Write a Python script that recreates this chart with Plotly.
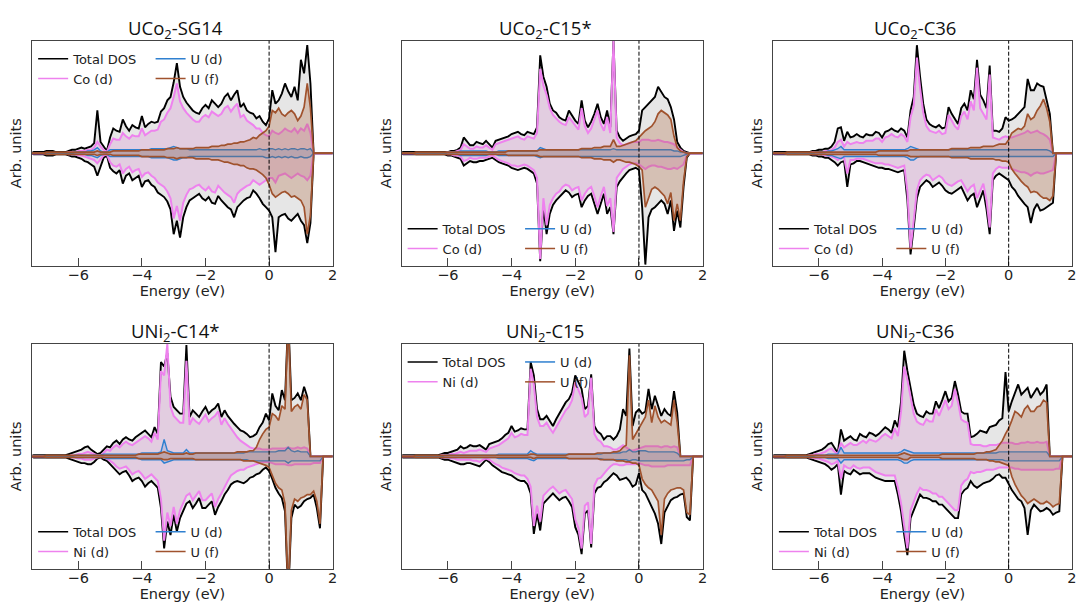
import plotly.graph_objects as go

# Energy grid (eV), 0.1 eV steps from -7.5 to 2.0
energy = [round(-7.5 + 0.1 * i, 1) for i in range(96)]

# ---------------- UCo2-SG14 ----------------
sg14_tot_up = [0, 1, 1, 1, 1, 2, 2, 2, 1, 1,
               1, 1, 2, 3, 3, 4, 5, 4, 5, 6,
               9, 38, 10, 6, 2, 14, 22, 20, 19, 30,
               24, 20, 25, 23, 22, 33, 23, 26, 28, 27,
               28, 37, 40, 47, 50, 63, 80, 59, 50, 45,
               41, 38, 36, 35, 40, 43, 40, 47, 44, 41,
               44, 50, 53, 47, 52, 56, 41, 44, 38, 36,
               35, 31, 33, 28, 25, 31, 56, 44, 47, 53,
               62, 55, 50, 59, 47, 83, 71, 96, 62, 0,
               0, 0, 0, 0, 0, 0]
sg14_tot_dn = [0, 1, 1, 1, 1, 2, 2, 2, 1, 1,
               1, 1, 2, 3, 3, 4, 5, 7, 8, 10,
               12, 20, 11, 4, 2, 13, 16, 18, 15, 27,
               20, 18, 24, 22, 20, 30, 25, 24, 28, 30,
               35, 37, 39, 43, 50, 72, 60, 75, 57, 48,
               42, 40, 38, 36, 40, 42, 39, 44, 45, 38,
               42, 45, 48, 50, 57, 48, 45, 42, 40, 39,
               33, 36, 40, 45, 48, 51, 57, 88, 57, 55,
               54, 58, 60, 57, 54, 60, 64, 80, 62, 0,
               0, 0, 0, 0, 0, 0]
sg14_m_up = [0, 0, 0, 0, 0, 0, 0, 0, 0, 0,
             0, 0, 1, 1, 1, 2, 2, 2, 3, 3,
             5, 10, 6, 3, 1, 8, 13, 12, 12, 18,
             15, 13, 16, 15, 15, 22, 16, 18, 20, 20,
             21, 28, 30, 36, 40, 50, 62, 46, 40, 36,
             33, 30, 28, 28, 32, 34, 32, 37, 35, 33,
             35, 40, 42, 37, 41, 44, 32, 34, 29, 27,
             25, 22, 22, 18, 16, 15, 20, 18, 17, 19,
             22, 20, 19, 22, 18, 22, 20, 26, 18, 0,
             0, 0, 0, 0, 0, 0]
sg14_m_dn = [0, 0, 0, 0, 0, 0, 0, 0, 0, 0,
             0, 0, 1, 1, 1, 2, 2, 3, 4, 5,
             6, 9, 5, 2, 1, 8, 11, 12, 10, 18,
             14, 12, 17, 15, 14, 21, 18, 17, 20, 22,
             26, 28, 30, 34, 40, 58, 47, 60, 44, 37,
             32, 31, 29, 28, 31, 33, 30, 34, 35, 29,
             32, 35, 37, 39, 44, 36, 33, 31, 29, 28,
             24, 26, 28, 26, 24, 22, 22, 26, 20, 19,
             18, 20, 22, 20, 18, 20, 21, 24, 20, 0,
             0, 0, 0, 0, 0, 0]
sg14_ud_up = [0, 0, 0, 0, 0, 0, 0, 0, 0, 0,
              0, 0, 0, 0, 1, 1, 1, 1, 2, 2,
              3, 5, 2, 1, 1, 3, 3, 3, 3, 3,
              3, 3, 3, 3, 3, 3, 3, 3, 4, 4,
              4, 4, 4, 4, 5, 6, 5, 4, 4, 4,
              3, 3, 3, 3, 3, 3, 3, 3, 3, 3,
              3, 3, 3, 3, 3, 3, 3, 3, 3, 3,
              3, 3, 4, 3, 3, 4, 4, 3, 4, 3,
              4, 3, 4, 4, 3, 4, 4, 3, 4, 0,
              0, 0, 0, 0, 0, 0]
sg14_ud_dn = [0, 0, 0, 0, 0, 0, 0, 0, 0, 0,
              0, 0, 0, 0, 1, 1, 1, 1, 2, 2,
              3, 4, 2, 1, 1, 3, 3, 3, 3, 3,
              3, 3, 3, 3, 3, 3, 3, 3, 4, 4,
              4, 4, 4, 4, 5, 6, 6, 5, 4, 4,
              3, 3, 3, 3, 3, 3, 3, 3, 3, 3,
              3, 3, 3, 3, 3, 3, 3, 3, 3, 3,
              3, 3, 3, 3, 4, 4, 3, 4, 3, 4,
              3, 4, 3, 4, 4, 3, 4, 4, 3, 0,
              0, 0, 0, 0, 0, 0]
sg14_uf_up = [0, 0, 0, 0, 0, 1, 1, 1, 1, 1,
              1, 1, 1, 1, 1, 1, 1, 1, 1, 1,
              1, 2, 1, 1, 1, 1, 2, 2, 2, 2,
              2, 2, 2, 2, 2, 3, 3, 3, 3, 3,
              3, 3, 3, 4, 4, 4, 5, 4, 4, 4,
              4, 4, 5, 5, 5, 5, 5, 6, 6, 6,
              7, 7, 8, 8, 9, 9, 10, 10, 11, 12,
              14, 13, 16, 18, 20, 24, 38, 36, 40, 35,
              33, 36, 38, 35, 29, 33, 41, 62, 40, 0,
              0, 0, 0, 0, 0, 0]
sg14_uf_dn = [0, 0, 0, 0, 0, 1, 1, 1, 1, 1,
              1, 1, 1, 1, 1, 1, 1, 1, 1, 1,
              1, 2, 1, 1, 1, 1, 2, 2, 2, 2,
              2, 2, 2, 2, 2, 3, 3, 3, 3, 3,
              3, 3, 3, 4, 4, 4, 5, 4, 4, 4,
              4, 4, 5, 5, 5, 5, 5, 6, 6, 6,
              7, 8, 8, 9, 10, 10, 11, 11, 13, 14,
              14, 15, 17, 19, 22, 28, 36, 39, 37, 35,
              34, 36, 39, 38, 40, 42, 48, 72, 55, 0,
              0, 0, 0, 0, 0, 0]

# ---------------- UCo2-C15* ----------------
c15co_tot_up = [0, 1, 1, 1, 1, 1, 1, 1, 1, 1,
                1, 1, 1, 1, 1, 1, 2, 2, 3, 5,
                14, 10, 7, 7, 10, 9, 8, 11, 8, 5,
                11, 12, 13, 14, 15, 17, 18, 19, 17, 16,
                19, 18, 17, 23, 87, 68, 59, 44, 38, 36,
                32, 30, 29, 38, 33, 29, 26, 47, 29, 23,
                28, 35, 44, 32, 26, 38, 23, 100, 20, 14,
                11, 13, 15, 16, 17, 20, 38, 41, 44, 47,
                50, 59, 55, 50, 48, 41, 30, 10, 5, 2,
                1, 0, 0, 0, 0, 0]
c15co_tot_dn = [0, 1, 1, 1, 1, 1, 1, 1, 1, 1,
                1, 1, 1, 1, 1, 2, 2, 3, 4, 5,
                11, 9, 7, 8, 8, 7, 7, 6, 5, 4,
                6, 8, 9, 10, 11, 13, 14, 15, 14, 13,
                14, 16, 18, 27, 96, 48, 72, 54, 46, 42,
                39, 36, 33, 35, 39, 37, 36, 48, 42, 38,
                36, 45, 54, 45, 36, 54, 48, 72, 30, 25,
                21, 18, 15, 14, 13, 15, 48, 99, 57, 50,
                48, 45, 42, 45, 54, 42, 69, 51, 66, 30,
                4, 0, 0, 0, 0, 0]
c15co_m_up = [0, 0, 0, 0, 0, 0, 0, 0, 0, 0,
              0, 0, 0, 0, 0, 1, 1, 1, 2, 3,
              8, 6, 4, 4, 6, 5, 5, 7, 5, 3,
              8, 9, 10, 11, 12, 13, 14, 15, 13, 12,
              15, 14, 13, 18, 75, 60, 52, 40, 34, 31,
              28, 26, 25, 32, 28, 24, 21, 40, 24, 18,
              22, 30, 38, 26, 20, 32, 18, 100, 14, 9,
              7, 8, 9, 10, 10, 10, 12, 12, 12, 11,
              11, 12, 11, 10, 10, 9, 8, 5, 3, 1,
              0, 0, 0, 0, 0, 0]
c15co_m_dn = [0, 0, 0, 0, 0, 0, 0, 0, 0, 0,
              0, 0, 0, 0, 0, 1, 1, 2, 2, 3,
              7, 6, 4, 5, 5, 4, 4, 4, 3, 2,
              4, 6, 7, 8, 9, 11, 11, 12, 11, 10,
              11, 13, 15, 22, 94, 40, 64, 46, 40, 36,
              34, 30, 28, 29, 33, 31, 30, 42, 36, 32,
              30, 38, 48, 38, 30, 47, 40, 70, 22, 18,
              14, 12, 10, 9, 9, 10, 12, 14, 12, 11,
              11, 12, 12, 13, 14, 14, 13, 14, 12, 10,
              2, 0, 0, 0, 0, 0]
c15co_ud_up = [0, 0, 0, 0, 0, 0, 0, 0, 0, 0,
               0, 0, 0, 0, 0, 1, 1, 1, 1, 2,
               2, 2, 2, 2, 2, 2, 2, 2, 1, 1,
               1, 2, 2, 2, 2, 2, 2, 2, 2, 2,
               2, 2, 2, 2, 5, 4, 3, 3, 3, 3,
               3, 3, 3, 3, 3, 3, 3, 3, 3, 3,
               3, 3, 3, 3, 3, 3, 3, 4, 3, 3,
               3, 3, 3, 3, 3, 3, 3, 3, 3, 3,
               3, 3, 3, 3, 3, 3, 2, 2, 1, 1,
               0, 0, 0, 0, 0, 0]
c15co_ud_dn = [0, 0, 0, 0, 0, 0, 0, 0, 0, 0,
               0, 0, 0, 0, 0, 1, 1, 1, 1, 2,
               2, 2, 2, 2, 2, 2, 2, 2, 1, 1,
               1, 2, 2, 2, 2, 2, 2, 2, 2, 2,
               2, 2, 2, 3, 4, 3, 3, 3, 3, 3,
               3, 3, 3, 3, 3, 3, 3, 3, 3, 3,
               3, 3, 3, 3, 3, 3, 3, 3, 3, 3,
               3, 3, 3, 3, 3, 3, 3, 3, 3, 3,
               3, 3, 3, 3, 3, 3, 3, 3, 3, 2,
               1, 0, 0, 0, 0, 0]
c15co_uf_up = [0, 0, 0, 0, 0, 1, 1, 1, 1, 1,
               1, 1, 1, 1, 1, 1, 1, 1, 1, 1,
               1, 1, 1, 1, 1, 1, 1, 1, 1, 1,
               1, 1, 1, 1, 2, 2, 2, 2, 2, 2,
               2, 2, 2, 2, 3, 3, 3, 3, 3, 3,
               3, 3, 3, 3, 3, 3, 3, 4, 4, 4,
               4, 5, 5, 5, 6, 6, 6, 12, 6, 6,
               7, 8, 9, 10, 11, 14, 17, 20, 22, 24,
               28, 35, 38, 36, 34, 30, 15, 5, 2, 1,
               0, 0, 0, 0, 0, 0]
c15co_uf_dn = [0, 0, 0, 0, 0, 1, 1, 1, 1, 1,
               1, 1, 1, 1, 1, 1, 1, 1, 1, 1,
               1, 1, 1, 1, 1, 1, 1, 1, 1, 1,
               1, 1, 1, 1, 2, 2, 2, 2, 2, 2,
               2, 2, 2, 2, 3, 3, 3, 3, 3, 3,
               3, 3, 3, 3, 3, 3, 3, 4, 4, 4,
               4, 5, 5, 5, 6, 6, 6, 8, 6, 6,
               7, 8, 8, 9, 10, 12, 15, 48, 40, 32,
               30, 32, 35, 38, 45, 35, 60, 45, 60, 25,
               3, 0, 0, 0, 0, 0]

# ---------------- UCo2-C36 ----------------
c36co_tot_up = [0, 1, 1, 1, 1, 1, 1, 1, 1, 1,
                1, 1, 1, 2, 2, 3, 3, 4, 4, 6,
                10, 22, 23, 11, 19, 14, 15, 17, 15, 14,
                17, 16, 16, 19, 18, 14, 19, 20, 22, 20,
                19, 22, 20, 14, 38, 50, 96, 68, 44, 30,
                26, 24, 23, 25, 22, 23, 41, 35, 30, 26,
                40, 44, 38, 56, 48, 83, 52, 47, 40, 78,
                20, 20, 19, 22, 32, 29, 30, 32, 35, 38,
                41, 66, 56, 56, 62, 60, 59, 47, 35, 0,
                0, 0, 0, 0, 0, 0]
c36co_tot_dn = [0, 1, 1, 1, 1, 1, 1, 1, 1, 1,
                1, 1, 1, 2, 2, 3, 3, 4, 4, 6,
                8, 11, 8, 7, 30, 10, 9, 7, 7, 8,
                9, 10, 11, 12, 13, 13, 14, 14, 15, 16,
                17, 16, 15, 42, 90, 66, 40, 30, 27, 24,
                26, 30, 28, 26, 29, 33, 35, 36, 34, 32,
                30, 36, 42, 38, 36, 48, 40, 33, 50, 72,
                24, 20, 18, 20, 22, 24, 30, 33, 38, 42,
                45, 48, 62, 50, 45, 51, 50, 48, 46, 44,
                0, 0, 0, 0, 0, 0]
c36co_m_up = [0, 0, 0, 0, 0, 0, 0, 0, 0, 0,
              0, 0, 0, 1, 1, 1, 1, 2, 2, 3,
              5, 10, 12, 6, 10, 8, 9, 10, 9, 9,
              11, 11, 11, 13, 13, 10, 14, 15, 17, 15,
              14, 17, 15, 10, 32, 42, 85, 58, 36, 24,
              20, 19, 18, 20, 17, 18, 34, 29, 24, 21,
              33, 37, 30, 46, 38, 76, 40, 35, 30, 70,
              14, 13, 12, 14, 15, 14, 14, 15, 16, 17,
              18, 20, 18, 19, 20, 18, 17, 15, 12, 0,
              0, 0, 0, 0, 0, 0]
c36co_m_dn = [0, 0, 0, 0, 0, 0, 0, 0, 0, 0,
              0, 0, 0, 1, 1, 1, 1, 2, 2, 3,
              4, 6, 4, 4, 18, 6, 6, 5, 5, 5,
              6, 7, 8, 9, 9, 9, 10, 10, 11, 12,
              13, 12, 11, 34, 85, 60, 33, 24, 21, 19,
              20, 24, 22, 20, 22, 26, 28, 29, 27, 25,
              24, 29, 34, 30, 28, 40, 33, 27, 42, 66,
              18, 14, 12, 13, 13, 13, 14, 15, 16, 17,
              17, 18, 20, 18, 17, 18, 18, 17, 16, 15,
              0, 0, 0, 0, 0, 0]
c36co_ud_up = [0, 0, 0, 0, 0, 0, 0, 0, 0, 0,
               0, 0, 0, 0, 1, 1, 1, 1, 2, 2,
               3, 4, 6, 3, 3, 3, 3, 3, 3, 3,
               3, 3, 3, 3, 3, 3, 3, 3, 3, 3,
               3, 3, 3, 4, 6, 5, 4, 3, 3, 3,
               3, 3, 3, 3, 3, 3, 3, 3, 3, 3,
               3, 3, 3, 3, 3, 3, 3, 3, 3, 3,
               3, 3, 3, 3, 3, 3, 3, 3, 3, 3,
               3, 3, 3, 3, 3, 3, 3, 3, 2, 0,
               0, 0, 0, 0, 0, 0]
c36co_ud_dn = [0, 0, 0, 0, 0, 0, 0, 0, 0, 0,
               0, 0, 0, 0, 1, 1, 1, 1, 2, 2,
               3, 4, 5, 3, 3, 3, 3, 3, 3, 3,
               3, 3, 3, 3, 3, 3, 3, 3, 3, 3,
               3, 3, 3, 4, 6, 6, 4, 3, 3, 3,
               3, 3, 3, 3, 3, 3, 3, 3, 3, 3,
               3, 3, 3, 3, 3, 3, 3, 3, 3, 3,
               3, 3, 3, 3, 3, 3, 3, 3, 3, 3,
               3, 3, 3, 3, 3, 3, 3, 3, 3, 3,
               0, 0, 0, 0, 0, 0]
c36co_uf_up = [0, 0, 0, 0, 0, 1, 1, 1, 1, 1,
               1, 1, 1, 1, 1, 1, 1, 1, 1, 1,
               1, 1, 1, 1, 1, 1, 1, 1, 1, 1,
               1, 1, 1, 1, 2, 2, 2, 2, 2, 2,
               2, 2, 2, 2, 3, 3, 3, 3, 3, 3,
               3, 3, 3, 3, 3, 3, 3, 4, 4, 4,
               4, 4, 4, 5, 5, 5, 5, 6, 6, 6,
               6, 7, 8, 8, 8, 12, 18, 20, 22, 21,
               24, 35, 30, 32, 38, 42, 48, 40, 28, 0,
               0, 0, 0, 0, 0, 0]
c36co_uf_dn = [0, 0, 0, 0, 0, 1, 1, 1, 1, 1,
               1, 1, 1, 1, 1, 1, 1, 1, 1, 1,
               1, 1, 1, 1, 1, 1, 1, 1, 1, 1,
               1, 1, 1, 1, 2, 2, 2, 2, 2, 2,
               2, 2, 2, 2, 3, 3, 3, 3, 3, 3,
               3, 3, 3, 3, 3, 3, 3, 4, 4, 4,
               4, 4, 4, 5, 5, 5, 5, 5, 5, 5,
               5, 6, 6, 7, 7, 8, 14, 18, 22, 25,
               28, 30, 35, 34, 35, 38, 40, 40, 42, 38,
               0, 0, 0, 0, 0, 0]

# ---------------- UNi2-C14* ----------------
c14ni_tot_up = [0, 1, 1, 1, 1, 1, 1, 1, 1, 1,
                1, 1, 2, 3, 4, 5, 6, 8, 9, 6,
                4, 2, 3, 6, 9, 8, 12, 14, 11, 15,
                17, 15, 14, 17, 19, 21, 23, 20, 17, 26,
                20, 84, 80, 92, 53, 44, 41, 38, 38, 99,
                35, 41, 38, 35, 40, 44, 38, 41, 43, 47,
                35, 41, 36, 32, 29, 26, 23, 22, 20, 17,
                18, 20, 26, 30, 38, 32, 56, 45, 41, 59,
                50, 125, 50, 52, 56, 50, 62, 53, 0, 0,
                0, 0, 0, 0, 0, 0]
c14ni_tot_dn = [0, 1, 1, 1, 1, 1, 1, 1, 1, 1,
                1, 1, 2, 3, 4, 5, 6, 6, 7, 7,
                5, 2, 1, 3, 4, 7, 10, 13, 16, 14,
                13, 17, 22, 20, 19, 22, 27, 24, 22, 25,
                28, 46, 82, 58, 70, 52, 67, 55, 49, 42,
                40, 46, 42, 37, 46, 46, 43, 40, 52, 45,
                40, 34, 30, 25, 23, 22, 23, 24, 22, 19,
                18, 16, 15, 12, 10, 13, 20, 28, 33, 37,
                49, 125, 55, 43, 46, 44, 40, 38, 37, 34,
                46, 64, 0, 0, 0, 0]
c14ni_m_up = [0, 0, 0, 0, 0, 0, 0, 0, 0, 0,
              0, 0, 0, 1, 1, 2, 2, 3, 4, 3,
              2, 1, 1, 3, 6, 5, 8, 10, 8, 11,
              13, 11, 10, 12, 14, 16, 18, 16, 13, 21,
              15, 76, 72, 100, 44, 36, 33, 30, 30, 85,
              28, 34, 31, 29, 33, 37, 31, 34, 36, 40,
              28, 34, 29, 25, 20, 17, 14, 12, 10, 8,
              7, 7, 7, 6, 6, 6, 7, 7, 7, 7,
              7, 8, 7, 7, 8, 7, 8, 7, 0, 0,
              0, 0, 0, 0, 0, 0]
c14ni_m_dn = [0, 0, 0, 0, 0, 0, 0, 0, 0, 0,
              0, 0, 0, 1, 1, 2, 2, 3, 3, 3,
              2, 1, 0, 1, 2, 4, 6, 9, 11, 10,
              9, 12, 16, 14, 13, 16, 20, 18, 16, 19,
              22, 38, 75, 50, 62, 45, 60, 48, 42, 35,
              33, 39, 35, 31, 39, 39, 36, 33, 45, 38,
              33, 27, 22, 17, 15, 13, 12, 12, 10, 9,
              8, 7, 6, 5, 5, 5, 6, 7, 7, 7,
              7, 8, 8, 7, 7, 7, 7, 7, 7, 6,
              6, 6, 0, 0, 0, 0]
c14ni_ud_up = [0, 0, 0, 0, 0, 0, 0, 0, 0, 0,
               0, 0, 0, 0, 1, 1, 1, 1, 1, 1,
               1, 1, 1, 2, 2, 2, 2, 2, 2, 2,
               2, 2, 2, 2, 2, 3, 3, 3, 3, 3,
               3, 4, 15, 5, 4, 3, 3, 3, 3, 6,
               3, 3, 3, 3, 3, 3, 3, 3, 3, 3,
               3, 3, 3, 3, 3, 3, 3, 3, 4, 4,
               4, 4, 4, 4, 4, 4, 4, 4, 5, 5,
               5, 8, 5, 4, 5, 4, 4, 4, 0, 0,
               0, 0, 0, 0, 0, 0]
c14ni_ud_dn = [0, 0, 0, 0, 0, 0, 0, 0, 0, 0,
               0, 0, 0, 0, 1, 1, 1, 1, 1, 1,
               1, 1, 1, 1, 2, 2, 2, 2, 2, 2,
               2, 2, 2, 2, 2, 3, 3, 3, 3, 3,
               3, 3, 6, 5, 4, 3, 3, 3, 3, 3,
               3, 3, 3, 3, 3, 3, 3, 3, 3, 3,
               3, 3, 3, 3, 3, 3, 3, 3, 3, 4,
               4, 4, 4, 4, 4, 4, 4, 4, 4, 4,
               4, 6, 4, 4, 4, 4, 4, 4, 4, 4,
               4, 4, 0, 0, 0, 0]
c14ni_uf_up = [0, 0, 0, 0, 0, 1, 1, 1, 1, 1,
               1, 1, 1, 1, 1, 1, 1, 1, 1, 1,
               1, 1, 1, 1, 1, 1, 1, 1, 1, 1,
               1, 1, 1, 1, 2, 2, 2, 2, 2, 2,
               2, 3, 4, 3, 2, 2, 2, 2, 2, 3,
               2, 2, 3, 3, 3, 3, 3, 3, 3, 3,
               3, 3, 3, 3, 3, 4, 4, 4, 4, 5,
               5, 8, 15, 20, 24, 26, 38, 36, 32, 45,
               42, 125, 40, 44, 46, 42, 55, 50, 0, 0,
               0, 0, 0, 0, 0, 0]
c14ni_uf_dn = [0, 0, 0, 0, 0, 1, 1, 1, 1, 1,
               1, 1, 1, 1, 1, 1, 1, 1, 1, 1,
               1, 1, 1, 1, 1, 1, 1, 1, 1, 1,
               1, 1, 1, 1, 2, 2, 2, 2, 2, 2,
               2, 2, 3, 3, 2, 2, 2, 2, 2, 2,
               2, 2, 3, 3, 3, 3, 3, 3, 3, 3,
               3, 3, 3, 3, 3, 3, 3, 4, 4, 4,
               4, 5, 6, 7, 8, 10, 17, 24, 28, 30,
               42, 125, 48, 38, 40, 37, 36, 34, 34, 31,
               40, 60, 0, 0, 0, 0]

# ---------------- UNi2-C15 ----------------
c15ni_tot_up = [0, 1, 1, 1, 1, 1, 1, 1, 1, 1,
                1, 1, 1, 2, 3, 3, 4, 5, 6, 9,
                7, 8, 10, 9, 9, 10, 8, 6, 11, 12,
                13, 14, 16, 19, 21, 27, 22, 23, 25, 24,
                24, 84, 72, 42, 33, 33, 36, 31, 27, 33,
                38, 42, 48, 51, 57, 72, 66, 60, 42, 45,
                73, 27, 22, 20, 15, 18, 18, 15, 18, 24,
                42, 36, 96, 27, 39, 42, 38, 40, 60, 42,
                54, 45, 36, 42, 38, 36, 58, 39, 0, 0,
                0, 0, 0, 0, 0, 0]
c15ni_tot_dn = [0, 1, 1, 1, 1, 1, 1, 1, 1, 1,
                1, 1, 1, 2, 3, 3, 4, 5, 6, 7,
                7, 6, 6, 7, 8, 9, 6, 3, 5, 8,
                10, 12, 14, 15, 16, 17, 19, 21, 22, 22,
                25, 33, 69, 51, 66, 42, 39, 36, 33, 36,
                39, 37, 36, 40, 45, 63, 70, 87, 51, 48,
                81, 33, 28, 27, 23, 21, 18, 15, 17, 21,
                20, 19, 22, 27, 25, 15, 30, 33, 39, 45,
                51, 60, 78, 50, 45, 39, 37, 36, 34, 33,
                54, 57, 0, 0, 0, 0]
c15ni_m_up = [0, 0, 0, 0, 0, 0, 0, 0, 0, 0,
              0, 0, 0, 1, 1, 1, 2, 2, 3, 4,
              3, 4, 5, 5, 5, 6, 5, 4, 7, 8,
              9, 10, 12, 14, 16, 21, 17, 18, 20, 19,
              19, 78, 64, 35, 27, 27, 30, 25, 21, 26,
              31, 35, 41, 44, 50, 66, 58, 52, 35, 38,
              70, 20, 15, 13, 9, 9, 8, 6, 6, 8,
              10, 8, 6, 5, 6, 7, 8, 9, 9, 9,
              9, 9, 8, 9, 9, 8, 9, 8, 0, 0,
              0, 0, 0, 0, 0, 0]
c15ni_m_dn = [0, 0, 0, 0, 0, 0, 0, 0, 0, 0,
              0, 0, 0, 1, 1, 1, 2, 2, 3, 3,
              3, 3, 3, 4, 4, 5, 3, 2, 3, 5,
              7, 8, 10, 11, 12, 13, 15, 16, 17, 17,
              20, 27, 62, 44, 58, 35, 32, 29, 27, 30,
              33, 31, 30, 34, 38, 56, 64, 82, 44, 41,
              78, 26, 20, 19, 15, 12, 9, 7, 7, 8,
              8, 7, 7, 7, 7, 6, 7, 8, 8, 9,
              9, 9, 9, 9, 8, 8, 8, 8, 8, 8,
              8, 8, 0, 0, 0, 0]
c15ni_ud_up = [0, 0, 0, 0, 0, 0, 0, 0, 0, 0,
               0, 0, 0, 0, 1, 1, 1, 1, 1, 1,
               1, 1, 1, 1, 1, 1, 1, 1, 1, 1,
               1, 2, 2, 2, 2, 2, 2, 2, 2, 2,
               2, 5, 3, 2, 2, 2, 2, 2, 2, 2,
               2, 2, 2, 2, 2, 2, 2, 2, 2, 2,
               2, 2, 2, 2, 3, 3, 3, 3, 3, 3,
               4, 4, 6, 4, 4, 5, 5, 5, 4, 4,
               4, 4, 4, 4, 4, 4, 4, 3, 0, 0,
               0, 0, 0, 0, 0, 0]
c15ni_ud_dn = [0, 0, 0, 0, 0, 0, 0, 0, 0, 0,
               0, 0, 0, 0, 1, 1, 1, 1, 1, 1,
               1, 1, 1, 1, 1, 1, 1, 1, 1, 1,
               1, 2, 2, 2, 2, 2, 2, 2, 2, 2,
               2, 3, 4, 2, 2, 2, 2, 2, 2, 2,
               2, 2, 2, 2, 2, 2, 2, 2, 2, 2,
               2, 2, 2, 2, 3, 3, 3, 3, 3, 3,
               3, 3, 4, 3, 3, 4, 4, 4, 4, 4,
               4, 4, 4, 4, 4, 4, 4, 4, 4, 4,
               3, 3, 0, 0, 0, 0]
c15ni_uf_up = [0, 0, 0, 0, 0, 1, 1, 1, 1, 1,
               1, 1, 1, 1, 1, 1, 1, 1, 1, 1,
               1, 1, 1, 1, 1, 1, 1, 1, 1, 1,
               1, 1, 1, 1, 1, 1, 1, 1, 1, 1,
               1, 2, 2, 1, 1, 1, 1, 1, 1, 1,
               1, 1, 1, 2, 2, 2, 2, 2, 2, 2,
               2, 2, 3, 3, 3, 3, 3, 4, 4, 5,
               8, 10, 90, 15, 20, 25, 30, 35, 50, 30,
               45, 35, 30, 32, 30, 28, 50, 30, 0, 0,
               0, 0, 0, 0, 0, 0]
c15ni_uf_dn = [0, 0, 0, 0, 0, 1, 1, 1, 1, 1,
               1, 1, 1, 1, 1, 1, 1, 1, 1, 1,
               1, 1, 1, 1, 1, 1, 1, 1, 1, 1,
               1, 1, 1, 1, 1, 1, 1, 1, 1, 1,
               1, 1, 2, 1, 1, 1, 1, 1, 1, 1,
               1, 1, 1, 2, 2, 2, 2, 2, 2, 2,
               2, 2, 2, 3, 3, 3, 3, 3, 4, 4,
               4, 5, 5, 6, 6, 8, 20, 25, 28, 30,
               35, 40, 70, 38, 33, 30, 29, 28, 28, 30,
               50, 52, 0, 0, 0, 0]

# ---------------- UNi2-C36 ----------------
c36ni_tot_up = [0, 1, 1, 1, 1, 1, 1, 1, 1, 1,
                1, 1, 2, 3, 4, 5, 6, 8, 11, 12,
                8, 3, 24, 14, 16, 18, 15, 14, 20, 18,
                17, 21, 20, 18, 20, 23, 26, 24, 21, 32,
                26, 49, 94, 76, 61, 46, 38, 36, 35, 40,
                38, 38, 49, 43, 50, 58, 49, 52, 67, 55,
                40, 38, 38, 17, 18, 20, 23, 22, 21, 26,
                27, 28, 32, 34, 75, 40, 49, 57, 64, 55,
                58, 61, 52, 56, 61, 55, 58, 64, 0, 0,
                0, 0, 0, 0, 0, 0]
c36ni_tot_dn = [0, 1, 1, 1, 1, 1, 1, 1, 1, 1,
                1, 1, 2, 3, 4, 5, 6, 7, 9, 12,
                10, 7, 34, 13, 15, 16, 12, 14, 16, 15,
                15, 15, 17, 19, 20, 21, 22, 22, 22, 22,
                34, 49, 70, 88, 55, 48, 40, 34, 37, 37,
                38, 40, 40, 43, 43, 46, 49, 52, 55, 55,
                34, 30, 28, 22, 26, 28, 26, 24, 23, 22,
                20, 17, 16, 19, 19, 25, 30, 34, 38, 40,
                46, 70, 48, 43, 46, 49, 48, 46, 48, 52,
                50, 49, 0, 0, 0, 0]
c36ni_m_up = [0, 0, 0, 0, 0, 0, 0, 0, 0, 0,
              0, 0, 1, 1, 2, 2, 3, 4, 6, 7,
              4, 2, 12, 8, 10, 12, 10, 10, 12, 14,
              12, 15, 14, 13, 15, 18, 20, 18, 16, 25,
              18, 40, 80, 68, 52, 38, 31, 29, 28, 33,
              31, 31, 42, 36, 43, 50, 42, 45, 60, 48,
              33, 31, 30, 11, 10, 10, 10, 9, 9, 10,
              10, 10, 11, 12, 12, 12, 12, 11, 11, 12,
              12, 13, 12, 12, 13, 12, 12, 13, 0, 0,
              0, 0, 0, 0, 0, 0]
c36ni_m_dn = [0, 0, 0, 0, 0, 0, 0, 0, 0, 0,
              0, 0, 1, 1, 2, 2, 3, 4, 5, 7,
              6, 4, 20, 8, 10, 11, 8, 10, 11, 10,
              10, 10, 12, 14, 15, 16, 17, 17, 17, 17,
              28, 42, 62, 82, 48, 40, 33, 28, 30, 30,
              31, 33, 33, 36, 36, 39, 42, 45, 48, 48,
              26, 22, 20, 14, 15, 14, 14, 13, 12, 12,
              12, 11, 10, 10, 10, 10, 10, 11, 11, 12,
              12, 12, 12, 12, 12, 12, 12, 12, 12, 12,
              11, 11, 0, 0, 0, 0]
c36ni_ud_up = [0, 0, 0, 0, 0, 0, 0, 0, 0, 0,
               0, 0, 0, 0, 1, 1, 1, 1, 2, 2,
               2, 2, 8, 3, 3, 3, 3, 3, 3, 3,
               3, 3, 3, 3, 3, 3, 3, 3, 3, 3,
               3, 4, 6, 5, 4, 3, 3, 3, 3, 3,
               3, 3, 3, 3, 3, 3, 3, 3, 3, 3,
               3, 3, 3, 3, 3, 3, 3, 3, 3, 3,
               3, 3, 4, 4, 4, 4, 4, 4, 4, 4,
               4, 4, 4, 4, 4, 4, 4, 4, 0, 0,
               0, 0, 0, 0, 0, 0]
c36ni_ud_dn = [0, 0, 0, 0, 0, 0, 0, 0, 0, 0,
               0, 0, 0, 0, 1, 1, 1, 1, 2, 2,
               2, 2, 6, 3, 3, 3, 3, 3, 3, 3,
               3, 3, 3, 3, 3, 3, 3, 3, 3, 3,
               3, 4, 6, 6, 4, 3, 3, 3, 3, 3,
               3, 3, 3, 3, 3, 3, 3, 3, 3, 3,
               3, 3, 3, 3, 3, 3, 3, 3, 3, 3,
               3, 3, 3, 3, 4, 4, 4, 4, 4, 4,
               4, 4, 4, 4, 4, 4, 4, 4, 4, 4,
               4, 4, 0, 0, 0, 0]
c36ni_uf_up = [0, 0, 0, 0, 0, 1, 1, 1, 1, 1,
               1, 1, 1, 1, 1, 1, 1, 1, 1, 1,
               1, 1, 1, 1, 1, 1, 1, 1, 1, 1,
               1, 1, 1, 1, 1, 1, 1, 1, 1, 1,
               1, 2, 3, 2, 1, 1, 1, 1, 1, 1,
               1, 1, 1, 1, 2, 2, 2, 2, 2, 2,
               2, 2, 2, 2, 2, 3, 3, 3, 4, 4,
               5, 6, 10, 14, 20, 25, 32, 40, 38, 35,
               42, 45, 40, 40, 44, 45, 50, 48, 0, 0,
               0, 0, 0, 0, 0, 0]
c36ni_uf_dn = [0, 0, 0, 0, 0, 1, 1, 1, 1, 1,
               1, 1, 1, 1, 1, 1, 1, 1, 1, 1,
               1, 1, 1, 1, 1, 1, 1, 1, 1, 1,
               1, 1, 1, 1, 1, 1, 1, 1, 1, 1,
               1, 2, 3, 3, 1, 1, 1, 1, 1, 1,
               1, 1, 1, 1, 2, 2, 2, 2, 2, 2,
               2, 2, 2, 2, 2, 3, 3, 3, 3, 4,
               4, 5, 5, 6, 7, 8, 18, 25, 30, 35,
               38, 42, 40, 38, 40, 42, 42, 40, 42, 45,
               43, 42, 0, 0, 0, 0]

tick_values = [-6, -4, -2, 0, 2]
tick_labels = ["\u22126", "\u22124", "\u22122", "0", "2"]

panels = [
    dict(title="UCo<sub>2</sub>-SG14", metal="Co (d)", legend_top=True,
         tot=(sg14_tot_up, sg14_tot_dn), m=(sg14_m_up, sg14_m_dn),
         ud=(sg14_ud_up, sg14_ud_dn), uf=(sg14_uf_up, sg14_uf_dn)),
    dict(title="UCo<sub>2</sub>-C15*", metal="Co (d)", legend_top=False,
         tot=(c15co_tot_up, c15co_tot_dn), m=(c15co_m_up, c15co_m_dn),
         ud=(c15co_ud_up, c15co_ud_dn), uf=(c15co_uf_up, c15co_uf_dn)),
    dict(title="UCo<sub>2</sub>-C36", metal="Co (d)", legend_top=False,
         tot=(c36co_tot_up, c36co_tot_dn), m=(c36co_m_up, c36co_m_dn),
         ud=(c36co_ud_up, c36co_ud_dn), uf=(c36co_uf_up, c36co_uf_dn)),
    dict(title="UNi<sub>2</sub>-C14*", metal="Ni (d)", legend_top=False,
         tot=(c14ni_tot_up, c14ni_tot_dn), m=(c14ni_m_up, c14ni_m_dn),
         ud=(c14ni_ud_up, c14ni_ud_dn), uf=(c14ni_uf_up, c14ni_uf_dn)),
    dict(title="UNi<sub>2</sub>-C15", metal="Ni (d)", legend_top=True,
         tot=(c15ni_tot_up, c15ni_tot_dn), m=(c15ni_m_up, c15ni_m_dn),
         ud=(c15ni_ud_up, c15ni_ud_dn), uf=(c15ni_uf_up, c15ni_uf_dn)),
    dict(title="UNi<sub>2</sub>-C36", metal="Ni (d)", legend_top=False,
         tot=(c36ni_tot_up, c36ni_tot_dn), m=(c36ni_m_up, c36ni_m_dn),
         ud=(c36ni_ud_up, c36ni_ud_dn), uf=(c36ni_uf_up, c36ni_uf_dn)),
]

W, H = 1077, 604
col_px = [(32.3, 334.3), (403.5, 706.0), (776.5, 1077.0)]
row_px = [(40.7, 265.7), (344.0, 568.7)]

styles = {
    "tot": dict(color="#000000", fill="rgba(90,90,90,0.15)", width=1.9, name="Total DOS"),
    "m": dict(color="#ee82ee", fill="rgba(215,120,205,0.22)", width=2.0, name=None),
    "ud": dict(color="#2f80d0", fill="rgba(47,128,208,0.18)", width=1.4, name="U (d)"),
    "uf": dict(color="#a0522d", fill="rgba(170,95,50,0.28)", width=1.7, name="U (f)"),
}

AXIS_COLOR = "#444444"
TEXT_COLOR = "#222222"
MONO = "DejaVu Sans"

fig = go.Figure()
layout = dict(width=W, height=H, margin=dict(l=0, r=0, t=0, b=0),
              paper_bgcolor="white", plot_bgcolor="white", autosize=False,
              showlegend=True, annotations=[], shapes=[])

for k, p in enumerate(panels):
    n = k + 1
    r, c = divmod(k, 3)
    x0, x1 = col_px[c]
    y0, y1 = row_px[r]
    xa = "x" if n == 1 else f"x{n}"
    ya = "y" if n == 1 else f"y{n}"
    leg_a = "legend" if n == 1 else f"legend{2 * n - 1}"
    leg_b = f"legend{2 * n}"

    for key in ("tot", "m", "ud", "uf"):
        st = styles[key]
        up, dn = p[key]
        assert len(up) == len(energy) and len(dn) == len(energy), (p["title"], key)
        for vals in (up, [-v for v in dn]):
            fig.add_trace(go.Scatter(
                x=energy, y=vals, xaxis=xa, yaxis=ya, mode="lines",
                line=dict(color=st["color"], width=st["width"]),
                fill="tozeroy", fillcolor=st["fill"], showlegend=False,
                hoverinfo="skip"))

    # legend entries (line samples only)
    for key, leg in (("tot", leg_a), ("m", leg_a), ("ud", leg_b), ("uf", leg_b)):
        st = styles[key]
        fig.add_trace(go.Scatter(
            x=[None], y=[None], xaxis=xa, yaxis=ya, mode="lines",
            name=st["name"] or p["metal"],
            line=dict(color=st["color"], width=1.5),
            legend=leg, showlegend=True))

    layout["xaxis" if n == 1 else f"xaxis{n}"] = dict(
        domain=[x0 / W, x1 / W], anchor=ya, range=[-7.45, 2.001],
        tickmode="array", tickvals=tick_values, ticktext=tick_labels,
        ticks="inside", ticklen=8, tickwidth=1.2, tickcolor=AXIS_COLOR,
        ticklabelstandoff=-4,
        showline=True, linecolor=AXIS_COLOR, linewidth=1.3, mirror=True,
        showgrid=False, zeroline=False,
        tickfont=dict(family=MONO, size=14.5, color=TEXT_COLOR),
        title=dict(text="Energy (eV)", standoff=1,
                   font=dict(family=MONO, size=14.5, color=TEXT_COLOR)))
    layout["yaxis" if n == 1 else f"yaxis{n}"] = dict(
        domain=[1 - y1 / H, 1 - y0 / H], anchor=xa, range=[-100, 100],
        showticklabels=False, ticks="", showline=True, linecolor=AXIS_COLOR,
        linewidth=1.3, mirror=True, showgrid=False, zeroline=False,
        title=dict(text="Arb. units", standoff=5,
                   font=dict(family=MONO, size=14.5, color=TEXT_COLOR)))

    # Fermi level
    layout["shapes"].append(dict(
        type="line", xref=xa, yref=f"{ya} domain", x0=0, x1=0, y0=0, y1=1,
        line=dict(color="black", width=1, dash="4px,2px")))

    # panel title
    layout["annotations"].append(dict(
        text=p["title"], xref=f"{xa} domain", yref=f"{ya} domain",
        x=0.5, y=1, xanchor="center", yanchor="middle", yshift=12, xshift=-7,
        showarrow=False, font=dict(family="Open Sans", size=18.5, color="#111111")))

    # legends
    if p["legend_top"]:
        ly = y0 + 3
    else:
        ly = y1 - 52
    leg_common = dict(orientation="v", xanchor="left", yanchor="top",
                      bgcolor="rgba(0,0,0,0)", borderwidth=0,
                      tracegroupgap=0, itemwidth=30,
                      font=dict(family=MONO, size=13, color=TEXT_COLOR))
    layout[leg_a] = dict(leg_common, x=(x0 + 1) / W, y=1 - ly / H)
    layout[leg_b] = dict(leg_common, x=(x0 + 119) / W, y=1 - ly / H)

fig.update_layout(**layout)
fig.write_html("out.html")
